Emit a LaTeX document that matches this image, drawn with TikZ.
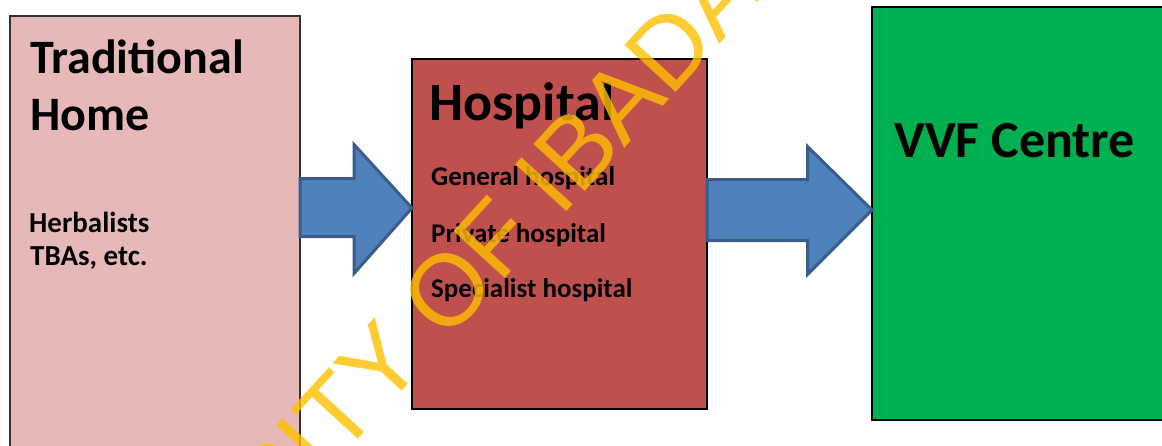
\documentclass[tikz,border=0pt]{standalone}
\usepackage{fontspec}
\setmainfont{Carlito}
\newfontfamily\stampfont{Liberation Sans}
\definecolor{homepink}{HTML}{E6B9B8}
\definecolor{hospred}{HTML}{C0504D}
\definecolor{vvfgreen}{HTML}{00B050}
\definecolor{arrowfill}{HTML}{4F81BD}
\definecolor{arrowline}{HTML}{385D8A}
\definecolor{stampgold}{HTML}{FFC000}
\begin{document}
\begin{tikzpicture}[x=1pt,y=-1pt,
  stagebox/.style={rectangle, draw=black, line width=1.5pt, inner sep=0pt, outer sep=0pt, anchor=north west},
  blockarrow/.style={fill=arrowfill, draw=arrowline, line width=3pt, line join=miter},
  heading/.style={anchor=base west, inner sep=0pt, font=\bfseries\fontsize{48}{48}\selectfont},
  item/.style={anchor=base west, inner sep=0pt, font=\bfseries\fontsize{27}{27}\selectfont},
  stamp/.style={anchor=base west, inner sep=0pt, rotate=47.5, text=stampgold, opacity=0.8,
    font=\stampfont\fontsize{101}{101}\selectfont},
]
\useasboundingbox (0,0) rectangle (1162,445);
\clip (0,0) rectangle (1162,445);
\fill[white] (0,0) rectangle (1162,445);

% the three stages of care
\node[stagebox, draw=black!80, fill=homepink, minimum width=290pt, minimum height=480pt] (home) at (10,16) {};
\node[stagebox, fill=hospred, minimum width=295pt, minimum height=350pt] (hosp) at (412,59) {};
\node[stagebox, fill=vvfgreen, minimum width=320pt, minimum height=413pt] (vvf) at (872,7) {};

% labels
\node[heading] (homeA) at (30,73) {Traditional};
\node[heading] (homeB) at (30,130) {Home};
\node[item, font=\bfseries\fontsize{29}{29}\selectfont] (homeC) at (29,232) {Herbalists};
\node[item, font=\bfseries\fontsize{29}{29}\selectfont] (homeD) at (30,265) {TBAs, etc.};

\node[heading, font=\bfseries\fontsize{54}{54}\selectfont] (hospA) at (429,120) {Hospital};
\node[item] (hospB) at (431,185) {General hospital};
\node[item] (hospC) at (431,242) {Private hospital};
\node[item] (hospD) at (431,297) {Specialist hospital};

\node[heading, font=\bfseries\fontsize{52}{52}\selectfont] (vvfA) at (894,157) {VVF Centre};

% block arrows between the stages
\draw[blockarrow] (home.east |- 0,178.5) -- (354,178.5) -- (354,144.5)
  -- (hosp.west |- 0,208) -- (354,273.5) -- (354,236.5) -- (home.east |- 0,236.5) -- cycle;
\draw[blockarrow] (hosp.east |- 0,179.5) -- (807.5,179.5) -- (807.5,146.5)
  -- (vvf.west |- 0,210) -- (807.5,274.5) -- (807.5,240.5) -- (hosp.east |- 0,240.5) -- cycle;

% watermark
\node[stamp] (mark) at (276,529) {SITY OF IBADA};
\end{tikzpicture}
\end{document}
